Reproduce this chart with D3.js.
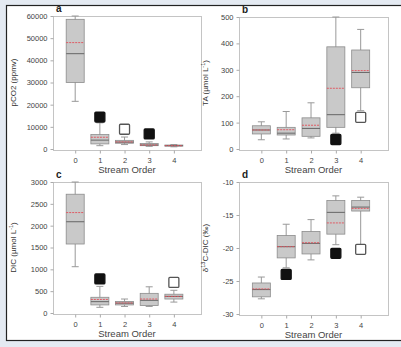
<!DOCTYPE html>
<html>
<head>
<meta charset="utf-8">
<script src="https://cdn.jsdelivr.net/npm/d3@7"></script>
<style>
  body { margin: 0; background: #e4eaf2; }
  svg { display: block; font-family: "Liberation Sans", Arial, sans-serif; }
</style>
</head>
<body>
<svg id="chart" width="401" height="347"></svg>
<script>
// stream orders on the x axis
const orders = [0, 1, 2, 3, 4];

// a: pCO2 (ppmv)
const pco2Low  = [21500, 1500, 2000, 1200, 1000];
const pco2Q1   = [30000, 2300, 2600, 1500, 1300];
const pco2Med  = [43000, 4000, 3100, 1800, 1500];
const pco2Q3   = [58500, 6500, 3900, 2500, 1800];
const pco2High = [60000, 11800, 5400, 3200, 2000];
const pco2Mean = [48000, 5300, 3200, 1800, 1500];
const pco2Out  = [null, 14400, 8900, 6800, null];
const pco2OutFilled = [false, true, false, true, false];

// b: TA (umol/L)
const taLow  = [35, 38, 42, 60, 145];
const taQ1   = [57, 53, 48, 82, 232];
const taMed  = [72, 60, 78, 130, 290];
const taQ3   = [88, 82, 118, 387, 375];
const taHigh = [103, 142, 175, 500, 453];
const taMean = [72, 73, 90, 230, 297];
const taOut  = [null, null, null, 36, 120];
const taOutFilled = [false, false, false, true, false];

// c: DIC (umol/L)
const dicLow  = [1060, 130, 150, 150, 250];
const dicQ1   = [1580, 185, 185, 170, 320];
const dicMed  = [2090, 260, 225, 290, 380];
const dicQ3   = [2720, 360, 265, 450, 430];
const dicHigh = [3000, 610, 320, 600, 520];
const dicMean = [2300, 310, 230, 320, 380];
const dicOut  = [null, 780, null, null, 700];
const dicOutFilled = [false, true, false, false, false];

// d: d13C-DIC (permil)
const d13Low  = [-27.7, -23.0, -21.8, -19.5, -20.0];
const d13Q1   = [-27.4, -21.5, -20.9, -17.9, -14.4];
const d13Med  = [-26.3, -19.8, -19.3, -14.6, -13.8];
const d13Q3   = [-25.3, -18.1, -17.5, -12.8, -12.8];
const d13High = [-24.4, -16.4, -15.7, -12.1, -12.3];
const d13Mean = [-26.2, -19.8, -19.2, -16.2, -14.0];
const d13Out  = [null, -24.0, null, -20.8, -20.2];
const d13OutFilled = [false, true, false, true, false];

const yTicksA = [0, 10000, 20000, 30000, 40000, 50000, 60000];
const yTicksB = [0, 100, 200, 300, 400, 500];
const yTicksC = [0, 500, 1000, 1500, 2000, 2500, 3000];
const yTicksD = [-30, -25, -20, -15, -10];

const svg = d3.select("#chart");

// white card with dark border
svg.append("rect")
  .attr("x", 6.5).attr("y", 5.5)
  .attr("width", 420).attr("height", 335)
  .style("fill", "#fff")
  .style("stroke", "#222")
  .style("stroke-width", 1.2);

const panels = [
  { letter: "a", x0: 53, x1: 201, y0: 16, y1: 149, domain: [0, 60000], ticks: yTicksA,
    low: pco2Low, q1: pco2Q1, med: pco2Med, q3: pco2Q3, high: pco2High, mean: pco2Mean,
    out: pco2Out, filled: pco2OutFilled, label: [["pCO2 (ppmv)"]], labelX: 16 },
  { letter: "b", x0: 239, x1: 388, y0: 17, y1: 149, domain: [0, 500], ticks: yTicksB,
    low: taLow, q1: taQ1, med: taMed, q3: taQ3, high: taHigh, mean: taMean,
    out: taOut, filled: taOutFilled, label: [["TA (µmol L"], ["-1", "sup"], [")"]], labelX: 208 },
  { letter: "c", x0: 53, x1: 201, y0: 182, y1: 313, domain: [0, 3000], ticks: yTicksC,
    low: dicLow, q1: dicQ1, med: dicMed, q3: dicQ3, high: dicHigh, mean: dicMean,
    out: dicOut, filled: dicOutFilled, label: [["DIC (µmol L"], ["-1", "sup"], [")"]], labelX: 16 },
  { letter: "d", x0: 239, x1: 388, y0: 182, y1: 314, domain: [-30, -10], ticks: yTicksD,
    low: d13Low, q1: d13Q1, med: d13Med, q3: d13Q3, high: d13High, mean: d13Mean,
    out: d13Out, filled: d13OutFilled, label: [["δ"], ["13", "sup"], ["C-DIC (‰)"]], labelX: 208 }
];

panels.forEach((p) => {
  const x = d3.scaleLinear().domain([-0.9, 5.1]).range([p.x0, p.x1]);
  const y = d3.scaleLinear().domain(p.domain).range([p.y1, p.y0]);
  const g = svg.append("g");
  const boxW = 18;

  // frame
  g.append("rect")
    .attr("x", p.x0 + 0.5).attr("y", p.y0 + 0.5)
    .attr("width", p.x1 - p.x0).attr("height", p.y1 - p.y0 + 1)
    .style("fill", "none").style("stroke", "#c4c4c4");

  // axes
  const yAxis = g.append("g")
    .attr("transform", `translate(${p.x0 + 0.5},0)`)
    .call(d3.axisLeft(y).tickValues(p.ticks).tickSize(3).tickPadding(3).tickFormat((d) => String(d)));
  const xAxis = g.append("g")
    .attr("transform", `translate(0,${p.y1 + 1.5})`)
    .call(d3.axisBottom(x).tickValues(orders).tickSize(3).tickPadding(4).tickFormat((d) => String(d)));
  [yAxis, xAxis].forEach((ax) => {
    ax.select(".domain").remove();
    ax.selectAll("line").style("stroke", "#aaa");
    ax.selectAll("text").style("fill", "#444").style("font-size", "7.5px");
  });

  // axis titles
  g.append("text")
    .attr("x", (p.x0 + p.x1) / 2)
    .attr("y", p.y1 + 24)
    .attr("text-anchor", "middle")
    .style("font-size", "9.5px")
    .style("fill", "#444")
    .text("Stream Order");

  const yl = g.append("text")
    .attr("transform", `translate(${p.labelX},${(p.y0 + p.y1) / 2}) rotate(-90)`)
    .attr("text-anchor", "middle")
    .style("font-size", "8px")
    .style("fill", "#333");
  p.label.forEach(([t, kind]) => {
    const ts = yl.append("tspan").text(t);
    if (kind === "sup") ts.attr("dy", -3).style("font-size", "5.5px");
    else if (yl.selectAll("tspan").size() > 1) ts.attr("dy", 3);
  });

  g.append("text")
    .attr("x", p.x0 + 3)
    .attr("y", p.y0 - 4)
    .style("font-size", "10px")
    .style("font-weight", "bold")
    .style("fill", "#222")
    .text(p.letter);

  // boxes
  orders.forEach((o, i) => {
    const cx = x(o);
    // whiskers
    g.append("line")
      .attr("x1", cx).attr("x2", cx)
      .attr("y1", y(p.low[i])).attr("y2", y(p.high[i]))
      .style("stroke", "#999");
    [p.low[i], p.high[i]].forEach((v) => {
      g.append("line")
        .attr("x1", cx - 3.5).attr("x2", cx + 3.5)
        .attr("y1", y(v)).attr("y2", y(v))
        .style("stroke", "#999");
    });
    g.append("rect")
      .attr("x", cx - boxW / 2)
      .attr("y", y(p.q3[i]))
      .attr("width", boxW)
      .attr("height", Math.max(1, y(p.q1[i]) - y(p.q3[i])))
      .style("fill", "#c9c9c9")
      .style("stroke", "#8c8c8c")
      .style("stroke-width", 0.8);
    g.append("line")
      .attr("x1", cx - boxW / 2).attr("x2", cx + boxW / 2)
      .attr("y1", y(p.med[i])).attr("y2", y(p.med[i]))
      .style("stroke", "#666");
    g.append("line")
      .attr("x1", cx - boxW / 2).attr("x2", cx + boxW / 2)
      .attr("y1", y(p.mean[i])).attr("y2", y(p.mean[i]))
      .style("stroke", "#e2505a")
      .style("stroke-width", 0.9)
      .style("stroke-dasharray", "2,1");

    if (p.out[i] !== null) {
      const s = 10;
      g.append("rect")
        .attr("x", cx - s / 2)
        .attr("y", y(p.out[i]) - s / 2)
        .attr("width", s).attr("height", s)
        .attr("rx", 1)
        .style("fill", p.filled[i] ? "#111" : "#fff")
        .style("stroke", p.filled[i] ? "#111" : "#555")
        .style("stroke-width", 1.3);
    }
  });
});
</script>
</body>
</html>
